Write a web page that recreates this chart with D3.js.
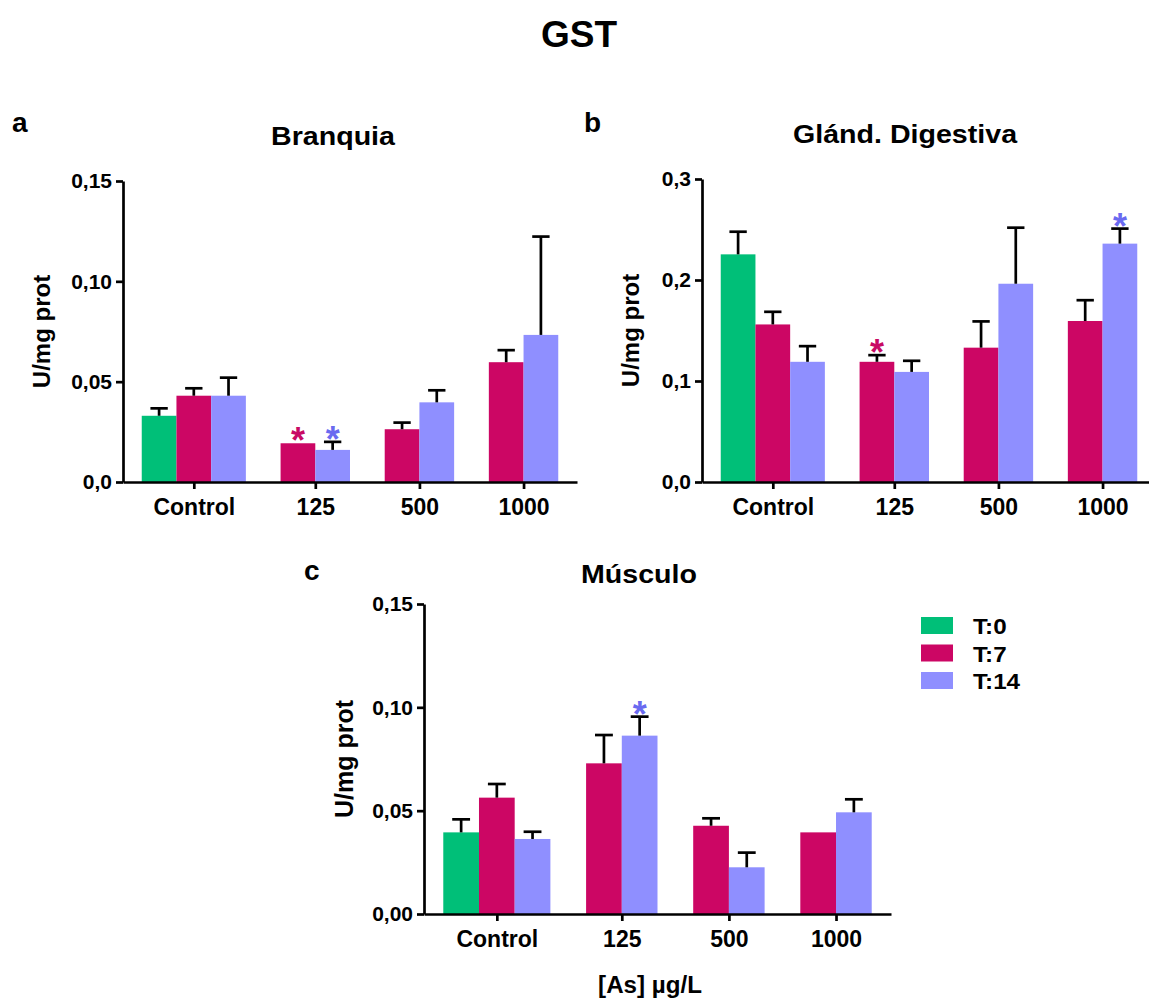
<!DOCTYPE html>
<html>
<head>
<meta charset="utf-8">
<script src="https://cdn.jsdelivr.net/npm/d3@7"></script>
<style>
  html, body { margin: 0; padding: 0; background: #fff; }
  svg { display: block; }
  text { font-family: "Liberation Sans", Arial, sans-serif; font-weight: bold; fill: #000; }
</style>
</head>
<body>
<svg id="chart" width="1149" height="1001"></svg>
<script>
// ---------- DATA ----------
const categories = ["Control", "125", "500", "1000"];
const seriesNames = ["T:0", "T:7", "T:14"];

// Branquia (a)
const branquiaT0 = [0.033, null, null, null];
const branquiaT0Err = [0.0037, null, null, null];
const branquiaT7 = [0.043, 0.0193, 0.0263, 0.0597];
const branquiaT7Err = [0.0037, 0, 0.0033, 0.006];
const branquiaT14 = [0.043, 0.016, 0.0397, 0.0733];
const branquiaT14Err = [0.009, 0.004, 0.006, 0.049];
const branquiaSigT7 = [false, true, false, false];
const branquiaSigT14 = [false, true, false, false];
const branquiaTicks = [0, 0.05, 0.10, 0.15];
const branquiaTickLabels = ["0,0", "0,05", "0,10", "0,15"];

// Glánd. Digestiva (b)
const glandT0 = [0.2254, null, null, null];
const glandT0Err = [0.0224, null, null, null];
const glandT7 = [0.156, 0.119, 0.133, 0.1594];
const glandT7Err = [0.0125, 0.0066, 0.026, 0.0206];
const glandT14 = [0.119, 0.109, 0.1963, 0.236];
const glandT14Err = [0.0155, 0.011, 0.0555, 0.0149];
const glandSigT7 = [false, true, false, false];
const glandSigT14 = [false, false, false, true];
const glandTicks = [0, 0.1, 0.2, 0.3];
const glandTickLabels = ["0,0", "0,1", "0,2", "0,3"];

// Músculo (c)
const musculoT0 = [0.0395, null, null, null];
const musculoT0Err = [0.0063, null, null, null];
const musculoT7 = [0.0563, 0.0729, 0.0427, 0.0395];
const musculoT7Err = [0.0066, 0.0137, 0.0036, 0];
const musculoT14 = [0.0363, 0.0863, 0.0226, 0.0492];
const musculoT14Err = [0.0035, 0.0092, 0.0071, 0.0063];
const musculoSigT7 = [false, false, false, false];
const musculoSigT14 = [false, true, false, false];
const musculoTicks = [0, 0.05, 0.10, 0.15];
const musculoTickLabels = ["0,00", "0,05", "0,10", "0,15"];

// ---------- STYLE ----------
const colors = ["#00BF78", "#CC0664", "#8F8FFF"];
const starColors = ["#00BF78", "#C80A64", "#6A6AF0"];
const font = '"Liberation Sans", Arial, sans-serif';

const svg = d3.select("#chart");

svg.append("text").attr("x", 579).attr("y", 47).attr("text-anchor", "middle")
  .style("font-size", "37px").text("GST");

function stretchedText(parent, x, y, size, sx, txt, anchor) {
  return parent.append("text")
    .attr("transform", `translate(${x},${y}) scale(${sx},1)`)
    .attr("text-anchor", anchor || "middle")
    .style("font-size", size + "px").text(txt);
}

function drawPanel(cfg) {
  const g = svg.append("g");
  const series = [
    {v: cfg.t0, e: cfg.t0e, sig: null, i: 0},
    {v: cfg.t7, e: cfg.t7e, sig: cfg.sig7, i: 1},
    {v: cfg.t14, e: cfg.t14e, sig: cfg.sig14, i: 2}
  ];
  const bars = [];
  const centers = [];
  let slot = 0;
  categories.forEach((c, ci) => {
    const start = slot;
    series.forEach(s => {
      if (s.v[ci] != null) {
        bars.push({slot: slot, value: s.v[ci], err: s.e[ci], sig: s.sig ? s.sig[ci] : false, si: s.i});
        slot++;
      }
    });
    centers.push((start + slot) / 2);
    slot++; // gap between groups
  });
  const nSlots = slot - 1;
  const pad = 0.54;
  const x = d3.scaleLinear().domain([-pad, nSlots + pad]).range([cfg.left, cfg.right]);
  const y = d3.scaleLinear().domain([cfg.ticks[0], cfg.ticks[cfg.ticks.length - 1]]).range([cfg.bottom, cfg.top]);
  const bw = x(1) - x(0);

  g.selectAll("rect.bar").data(bars).enter().append("rect")
    .attr("x", d => x(d.slot)).attr("width", bw)
    .attr("y", d => y(d.value)).attr("height", d => y(0) - y(d.value))
    .attr("fill", d => colors[d.si]);

  const eb = bars.filter(d => d.err > 0);
  g.selectAll("line.ev").data(eb).enter().append("line")
    .attr("x1", d => x(d.slot + 0.5)).attr("x2", d => x(d.slot + 0.5))
    .attr("y1", d => y(d.value)).attr("y2", d => y(d.value + d.err))
    .attr("stroke", "#000").attr("stroke-width", 2.7);
  g.selectAll("line.ec").data(eb).enter().append("line")
    .attr("x1", d => x(d.slot + 0.5) - bw * 0.25).attr("x2", d => x(d.slot + 0.5) + bw * 0.25)
    .attr("y1", d => y(d.value + d.err)).attr("y2", d => y(d.value + d.err))
    .attr("stroke", "#000").attr("stroke-width", 2.7);

  g.selectAll("text.star").data(bars.filter(d => d.sig)).enter().append("text")
    .attr("x", d => x(d.slot + 0.5)).attr("y", d => y(d.value + (d.err || 0)) + 10)
    .attr("text-anchor", "middle").style("font-size", "36px")
    .style("fill", d => starColors[d.si]).text("*");

  // y axis
  const ya = g.append("g").attr("transform", `translate(${cfg.left},0)`)
    .call(d3.axisLeft(y).tickValues(cfg.ticks).tickFormat((d, i) => cfg.tickLabels[i])
      .tickSize(7).tickPadding(4).tickSizeOuter(0));
  ya.selectAll("path, line").attr("stroke", "#000").attr("stroke-width", 2.7);
  ya.selectAll("text").style("font-size", "21px").style("font-family", font).style("font-weight", "bold").attr("fill", "#000");

  // x axis
  const xa = g.append("g").attr("transform", `translate(0,${cfg.bottom})`)
    .call(d3.axisBottom(x).tickValues(centers).tickFormat((d, i) => categories[i])
      .tickSize(7).tickPadding(10).tickSizeOuter(0));
  xa.selectAll("path, line").attr("stroke", "#000").attr("stroke-width", 2.7);
  xa.selectAll("text").style("font-size", "23px").style("font-family", font).style("font-weight", "bold").attr("fill", "#000");

  // y label
  g.append("text").attr("transform", `translate(${cfg.ylabX},${(cfg.top + cfg.bottom) / 2}) rotate(-90)`)
    .attr("text-anchor", "middle").style("font-size", cfg.ylabSize + "px").text("U/mg prot");

  // title & letter
  stretchedText(g, cfg.titleX, cfg.titleY, 26, 1.1, cfg.title);
  g.append("text").attr("x", cfg.letterX).attr("y", cfg.letterY)
    .style("font-size", "28px").text(cfg.letter);
  return {x, y};
}

drawPanel({
  t0: branquiaT0, t0e: branquiaT0Err, t7: branquiaT7, t7e: branquiaT7Err, t14: branquiaT14, t14e: branquiaT14Err,
  sig7: branquiaSigT7, sig14: branquiaSigT14, ticks: branquiaTicks, tickLabels: branquiaTickLabels,
  left: 123, right: 577, top: 181, bottom: 482,
  ylabX: 50, ylabSize: 24, title: "Branquia", titleX: 333, titleY: 145, letter: "a", letterX: 12, letterY: 132
});

drawPanel({
  t0: glandT0, t0e: glandT0Err, t7: glandT7, t7e: glandT7Err, t14: glandT14, t14e: glandT14Err,
  sig7: glandSigT7, sig14: glandSigT14, ticks: glandTicks, tickLabels: glandTickLabels,
  left: 702, right: 1156, top: 179, bottom: 482,
  ylabX: 639, ylabSize: 24, title: "Glánd. Digestiva", titleX: 905, titleY: 143, letter: "b", letterX: 584, letterY: 132
});

drawPanel({
  t0: musculoT0, t0e: musculoT0Err, t7: musculoT7, t7e: musculoT7Err, t14: musculoT14, t14e: musculoT14Err,
  sig7: musculoSigT7, sig14: musculoSigT14, ticks: musculoTicks, tickLabels: musculoTickLabels,
  left: 424, right: 891, top: 604, bottom: 914,
  ylabX: 353, ylabSize: 25, title: "Músculo", titleX: 639, titleY: 583, letter: "c", letterX: 304, letterY: 580
});

stretchedText(svg, 650, 993, 23, 1.05, "[As] µg/L");

// legend
const legend = svg.append("g").attr("transform", "translate(921,617)");
const li = legend.selectAll("g").data(seriesNames).enter().append("g")
  .attr("transform", (d, i) => `translate(0,${i * 27.5})`);
li.append("rect").attr("width", 32).attr("height", 17).attr("fill", (d, i) => colors[i]);
li.append("text").attr("transform", "translate(52,17) scale(1.1,1)").style("font-size", "22px").text(d => d);
</script>
</body>
</html>
